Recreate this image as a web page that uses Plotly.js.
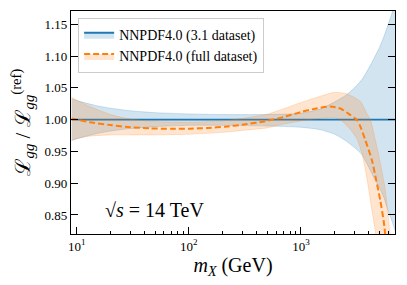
<!DOCTYPE html>
<html>
<head>
<meta charset="utf-8">
<script src="https://cdn.plot.ly/plotly-3.0.1.min.js"></script>
<style>html,body{margin:0;padding:0;background:#fff;}#chart{width:407px;height:285px;}</style>
</head>
<body>
<div id="chart"></div>
<script>
// NNPDF4.0 (3.1 dataset) — reference, ratio = 1
const blueX      = [9, 10, 15, 20, 30, 50, 100, 200, 500, 1000, 1500, 2000, 2500, 3000, 3500, 4000, 4500, 5000, 5500, 6000, 6500, 7000];
const blueCenter = [1.0, 1.0, 1.0, 1.0, 1.0, 1.0, 1.0, 1.0, 1.0, 1.0, 1.0, 1.0, 1.0, 1.0, 1.0, 1.0, 1.0, 1.0, 1.0, 1.0, 1.0, 1.0];
const blueUpper  = [1.033, 1.030, 1.022, 1.018, 1.014, 1.011, 1.009, 1.008, 1.008, 1.010, 1.017, 1.028, 1.038, 1.050, 1.063, 1.080, 1.097, 1.113, 1.131, 1.150, 1.168, 1.188];
const blueLower  = [0.967, 0.970, 0.978, 0.982, 0.986, 0.989, 0.991, 0.991, 0.990, 0.988, 0.984, 0.977, 0.967, 0.956, 0.945, 0.926, 0.908, 0.893, 0.877, 0.856, 0.840, 0.822];

// NNPDF4.0 (full dataset)
const orangeX      = [9, 10, 13, 20, 30, 45, 70, 100, 150, 210, 300, 480, 725, 1000, 1400, 1830, 2250, 2750, 3160, 3390, 3750, 4300, 4700, 5100, 5465, 5800, 6200];
const orangeCenter = [1.002, 1.000, 0.996, 0.9915, 0.988, 0.9863, 0.9855, 0.9857, 0.987, 0.989, 0.992, 0.9975, 1.0047, 1.012, 1.018, 1.0206, 1.0175, 1.0074, 0.9995, 0.989, 0.968, 0.936, 0.904, 0.873, 0.841, 0.80, 0.75];
const orangeUpX    = [9, 10, 13, 20, 30, 50, 100, 200, 300, 500, 700, 1000, 1500, 2000, 2500, 3000, 3400, 3860, 4170, 4500, 4900, 5600, 6200, 7000];
const orangeUpper  = [1.035, 1.031, 1.021, 1.008, 1.001, 0.997, 0.996, 0.998, 1.002, 1.0085, 1.017, 1.027, 1.037, 1.043, 1.041, 1.035, 1.0285, 1.010, 1.000, 0.976, 0.947, 0.894, 0.825, 0.74];
const orangeLoX    = [9, 10, 13, 20, 30, 50, 100, 200, 300, 500, 700, 1000, 1500, 2000, 2250, 2750, 3160, 3500, 3900, 4300, 4600, 5000];
const orangeLower  = [0.968, 0.970, 0.974, 0.976, 0.976, 0.976, 0.977, 0.980, 0.983, 0.987, 0.993, 0.998, 1.002, 1.003, 1.000, 0.985, 0.970, 0.947, 0.905, 0.857, 0.825, 0.78];

const seriesNames = ['NNPDF4.0 (3.1 dataset)', 'NNPDF4.0 (full dataset)'];
const xTickVals = [10, 100, 1000];
const xTickText = ['10<sup>1</sup>', '10<sup>2</sup>', '10<sup>3</sup>'];
const xMinorVals = [20, 30, 40, 50, 60, 70, 80, 90, 200, 300, 400, 500, 600, 700, 800, 900, 2000, 3000, 4000, 5000, 6000];
const yTickVals = [0.85, 0.90, 0.95, 1.00, 1.05, 1.10, 1.15];

const FONT = 'Liberation Serif';
const blueFill = 'rgba(31,119,180,0.2)';
const orangeFill = 'rgba(255,127,14,0.2)';
const blueEdge = 'rgba(31,119,180,0.25)';
const orangeEdge = 'rgba(255,127,14,0.25)';

const traces = [
  {x: blueX, y: blueLower, mode: 'lines', line: {color: blueEdge, width: 0.8, shape: 'spline', smoothing: 0.6}, showlegend: false, hoverinfo: 'skip'},
  {x: blueX, y: blueCenter, mode: 'lines', name: seriesNames[0], fill: 'tonexty', fillcolor: blueFill,
   line: {color: '#1f77b4', width: 1.8}},
  {x: blueX, y: blueUpper, mode: 'lines', fill: 'tonexty', fillcolor: blueFill, line: {color: blueEdge, width: 0.8, shape: 'spline', smoothing: 0.6}, showlegend: false, hoverinfo: 'skip'},
  {x: orangeLoX, y: orangeLower, mode: 'lines', line: {color: orangeEdge, width: 0.8, shape: 'spline', smoothing: 0.6}, showlegend: false, hoverinfo: 'skip'},
  {x: orangeX, y: orangeCenter, mode: 'lines', name: seriesNames[1], fill: 'tonexty', fillcolor: orangeFill,
   line: {color: '#ff7f0e', width: 2, dash: '6px,3px', shape: 'spline', smoothing: 0.6}},
  {x: orangeUpX, y: orangeUpper, mode: 'lines', fill: 'tonexty', fillcolor: orangeFill, line: {color: orangeEdge, width: 0.8, shape: 'spline', smoothing: 0.6}, showlegend: false, hoverinfo: 'skip'}
];

const layout = {
  width: 407, height: 285,
  margin: {l: 71, r: 12, t: 11, b: 51},
  paper_bgcolor: '#fff', plot_bgcolor: '#fff',
  font: {family: FONT, color: '#000', size: 13},
  showlegend: true,
  legend: {x: 0.022, y: 0.968, xanchor: 'left', yanchor: 'top', bgcolor: 'rgba(255,255,255,0.8)',
           traceorder: 'normal',
           bordercolor: '#cccccc', borderwidth: 1, font: {family: FONT, size: 14}, tracegroupgap: 0},
  xaxis: {
    type: 'log', range: [0.949, 3.839],
    tickmode: 'array', tickvals: xTickVals, ticktext: xTickText,
    ticks: 'inside', ticklen: 7, tickwidth: 1, tickcolor: '#000',
    minor: {tickmode: 'array', tickvals: xMinorVals, ticks: 'inside', ticklen: 3.5, tickwidth: 1, tickcolor: '#000'},
    showline: true, linecolor: '#000', linewidth: 1.2, mirror: true,
    showgrid: false, zeroline: false,
    tickfont: {family: FONT, size: 13},
    title: {text: '<i>m</i><sub><i>X</i></sub> (GeV)', font: {family: FONT, size: 20}, standoff: 5}
  },
  yaxis: {
    range: [0.82, 1.171],
    tickmode: 'array', tickvals: yTickVals, tickformat: '.2f',
    ticks: 'inside', ticklen: 7, tickwidth: 1, tickcolor: '#000',
    showline: true, linecolor: '#000', linewidth: 1.2, mirror: 'ticks',
    showgrid: false, zeroline: false,
    tickfont: {family: FONT, size: 13},
    title: {text: 'ℒ<sub><i>gg</i></sub> / ℒ<sub><i>gg</i></sub><sup>(ref)</sup>', font: {family: FONT, size: 21}, standoff: 8}
  },
  annotations: [{
    xref: 'paper', yref: 'paper', x: 0.1, y: 0.108, xanchor: 'left', yanchor: 'middle',
    text: '√<i>s</i> = 14 TeV', showarrow: false, font: {family: FONT, size: 20}
  }]
};

Plotly.newPlot('chart', traces, layout, {displayModeBar: false, staticPlot: true});
</script>
</body>
</html>
